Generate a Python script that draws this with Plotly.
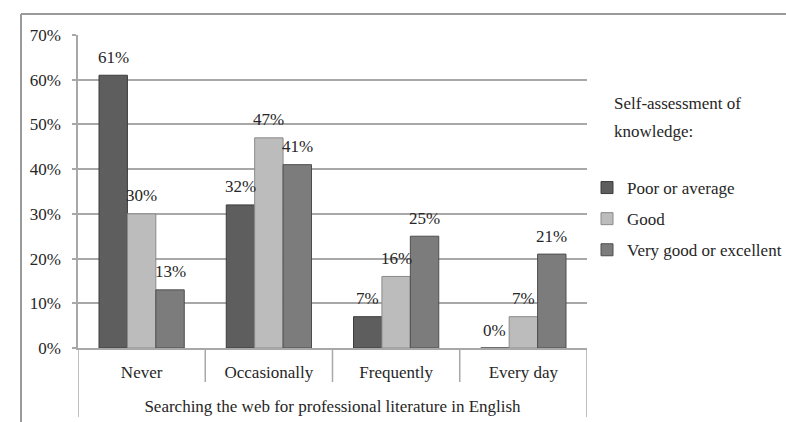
import plotly.graph_objects as go

# Survey results: share of respondents per frequency, by self-assessed knowledge
categories = ["Never", "Occasionally", "Frequently", "Every day"]
poor_or_average = [61, 32, 7, 0]
good = [30, 47, 16, 7]
very_good_or_excellent = [13, 41, 25, 21]
series_names = ["Poor or average", "Good", "Very good or excellent"]
y_tick_values = [0, 10, 20, 30, 40, 50, 60, 70]
y_tick_labels = [f"{v}%" for v in y_tick_values]

FONT = "'Liberation Serif', 'Times New Roman', Times, 'DejaVu Serif', serif"
FS = 17
GRID = "#a8a8a8"
TEXT = "#262626"

W, H = 786, 422
L, R, T, B = 78, 199, 35, 74
PW, PH = W - L - R, H - T - B
BARGAP = 0.33


def px_x(px):
    return (px - L) / PW


def px_y(py):
    return (H - B - py) / PH


fig = go.Figure()
series = [poor_or_average, good, very_good_or_excellent]
fills = ["#5e5e5e", "#bcbcbc", "#7c7c7c"]
edges = ["#3c3c3c", "#8a8a8a", "#4e4e4e"]
for i, (name, vals) in enumerate(zip(series_names, series)):
    fig.add_trace(go.Bar(
        x=categories, y=vals, name=name, legendgroup=name,
        marker=dict(color=fills[i], line=dict(color=edges[i], width=1)),
        hovertemplate="%{x}: %{y}%<extra>" + name + "</extra>",
    ))

# value labels sitting just above each bar
bar_px = PW / len(categories) * (1 - BARGAP) / len(series)
annotations = []
for i, vals in enumerate(series):
    for cat, v in zip(categories, vals):
        annotations.append(dict(
            text=f"{v}%", x=cat, y=v, xref="x", yref="y",
            xshift=(i - 1) * bar_px, yshift=18, yanchor="middle",
            showarrow=False, font=dict(family=FONT, size=FS, color=TEXT)))

annotations += [
    dict(text="Self-assessment of", xref="paper", yref="paper",
         x=px_x(612), y=px_y(103), xanchor="left", yanchor="middle",
         showarrow=False, font=dict(family=FONT, size=FS, color=TEXT)),
    dict(text="knowledge:", xref="paper", yref="paper",
         x=px_x(612), y=px_y(131), xanchor="left", yanchor="middle",
         showarrow=False, font=dict(family=FONT, size=FS, color=TEXT)),
]

shapes = []
# category dividers under the axis
for xv in [-0.5, 0.5, 1.5, 2.5, 3.5]:
    low = px_y(417) if xv in (-0.5, 3.5) else px_y(382)
    shapes.append(dict(type="line", xref="x", yref="paper", x0=xv, x1=xv,
                       y0=0, y1=low, line=dict(color=GRID, width=1.5)))
# outer chart frame (top and left)
shapes.append(dict(type="line", xref="paper", yref="paper",
                   x0=px_x(21), x1=px_x(790), y0=px_y(14), y1=px_y(14),
                   line=dict(color="#9a9a9a", width=2)))
shapes.append(dict(type="line", xref="paper", yref="paper",
                   x0=px_x(21), x1=px_x(21), y0=px_y(14), y1=px_y(430),
                   line=dict(color="#9a9a9a", width=2)))

fig.update_layout(
    width=W, height=H,
    margin=dict(l=L, r=R, t=T, b=B, autoexpand=False),
    paper_bgcolor="white", plot_bgcolor="white",
    font=dict(family=FONT, size=FS, color=TEXT),
    barmode="group", bargap=BARGAP, bargroupgap=0,
    shapes=shapes, annotations=annotations,
    legend=dict(xref="container", yref="container",
                x=587 / W, y=1 - 170 / H, xanchor="left", yanchor="top",
                font=dict(family=FONT, size=FS, color=TEXT),
                tracegroupgap=6, traceorder="grouped", itemwidth=30,
                bgcolor="rgba(0,0,0,0)"),
    showlegend=True,
)
fig.update_xaxes(
    range=[-0.5, 3.5], showline=True, linecolor=GRID, linewidth=1.5,
    showgrid=False, ticks="", ticklabelstandoff=8,
    title=dict(text="Searching the web for professional literature in English",
               standoff=19, font=dict(family=FONT, size=FS, color=TEXT)),
)
fig.update_yaxes(
    range=[0, 70], tickvals=y_tick_values, ticktext=y_tick_labels,
    showgrid=True, gridcolor=GRID, gridwidth=1.5,
    showline=True, linecolor=GRID, linewidth=1.5,
    ticks="outside", ticklen=4, tickcolor=GRID, tickwidth=1.5,
    ticklabelstandoff=8, zeroline=False,
)

fig.write_html("out.html")
